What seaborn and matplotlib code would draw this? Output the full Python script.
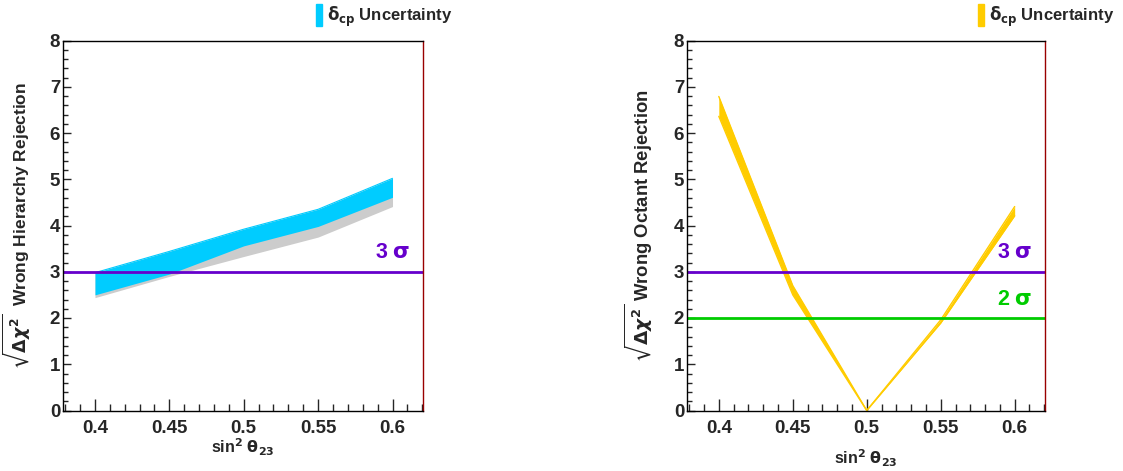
import matplotlib
matplotlib.use("Agg")
import matplotlib.pyplot as plt
from matplotlib.patches import Patch
from matplotlib.ticker import MultipleLocator
import seaborn as sns

# sin^2 theta23 grid
s23 = [0.4, 0.45, 0.5, 0.55, 0.6]

# wrong hierarchy rejection band (cyan on top of gray)
mh_cyan_hi = [2.98, 3.44, 3.92, 4.35, 5.02]
mh_cyan_lo = [2.50, 2.95, 3.56, 3.98, 4.61]
mh_gray_lo = [2.44, 2.90, 3.33, 3.75, 4.41]

# wrong octant rejection band
oct_hi = [6.79, 2.70, 0.0, 1.96, 4.41]
oct_lo = [6.36, 2.50, 0.0, 1.89, 4.21]

sns.set_style("ticks")
plt.rcParams["font.family"] = ["Liberation Sans", "DejaVu Sans"]
plt.rcParams["font.weight"] = "bold"
plt.rcParams["mathtext.fontset"] = "dejavusans"

cyan = "#00ccff"
gray = "#cccccc"
gold = "#ffcc00"
purple = "#6600cc"
green = "#00cc00"

fig = plt.figure(figsize=(11.23, 4.71), dpi=100)
ax1 = fig.add_axes([63 / 1123, 60.5 / 471, 360 / 1123, 370 / 471])
ax2 = fig.add_axes([687 / 1123, 60.5 / 471, 358 / 1123, 370 / 471])


def style_axes(ax):
    ax.set_xlim(0.3785, 0.6205)
    ax.set_ylim(0, 8)
    ax.xaxis.set_major_locator(MultipleLocator(0.05))
    ax.xaxis.set_minor_locator(MultipleLocator(0.01))
    ax.yaxis.set_major_locator(MultipleLocator(1))
    ax.yaxis.set_minor_locator(MultipleLocator(0.2))
    ax.set_xticks(s23)
    ax.set_xticklabels(["0.4", "0.45", "0.5", "0.55", "0.6"])
    ax.tick_params(axis="both", which="both", direction="in", top=False, right=False)
    ax.tick_params(axis="x", which="major", length=9, width=1, labelsize=13.5, pad=7)
    ax.tick_params(axis="x", which="minor", length=5, width=1)
    ax.tick_params(axis="y", which="major", length=6, width=1, labelsize=13.5, pad=2)
    ax.tick_params(axis="y", which="minor", length=3.5, width=1)
    for lab in ax.get_xticklabels() + ax.get_yticklabels():
        lab.set_fontweight("bold")
    for sp in ax.spines.values():
        sp.set_visible(True)
        sp.set_linewidth(1)
        sp.set_color("black")
    ax.spines["right"].set_color("#990000")


sigma_txt = r"3 $\mathrm{\sigma}$"
xlab = r"sin$^{\mathbf{2}}$ $\mathrm{\theta}_{\mathbf{23}}$"
leg_kw = dict(loc="upper right", bbox_transform=fig.transFigure, frameon=False,
              handlelength=0.35, handleheight=1.6, handletextpad=0.3,
              borderaxespad=0.2, prop={"weight": "bold", "size": 12})

# left panel: hierarchy
ax1.fill_between(s23, mh_gray_lo, mh_cyan_hi, color=gray, linewidth=0)
ax1.fill_between(s23, mh_cyan_lo, mh_cyan_hi, color=cyan, linewidth=0)
sns.lineplot(x=s23, y=mh_cyan_hi, ax=ax1, color=cyan, linewidth=0.8)
ax1.axhline(3, color=purple, linewidth=2)
ax1.text(0.6, 3.18, sigma_txt, color=purple, fontsize=15.5, fontweight="bold",
         ha="center", va="bottom")
style_axes(ax1)
ax1.set_ylabel(r"$\sqrt{\Delta\chi^2}$  Wrong Hierarchy Rejection", fontsize=12.5,
               fontweight="bold")
ax1.yaxis.set_label_coords(-0.082, 0.5)
ax1.set_xlabel(xlab, fontsize=11.5, fontweight="bold")
ax1.xaxis.set_label_coords(0.5, -0.07)
ax1.legend(handles=[Patch(color=cyan, label=r"$\mathrm{\delta}_{\mathbf{cp}}$ Uncertainty")],
           bbox_to_anchor=(462 / 1123, 1.012), **leg_kw)

# right panel: octant
ax2.fill_between(s23, oct_lo, oct_hi, color=gold, linewidth=0)
sns.lineplot(x=s23, y=oct_hi, ax=ax2, color=gold, linewidth=1)
sns.lineplot(x=s23, y=oct_lo, ax=ax2, color=gold, linewidth=1)
ax2.axhline(3, color=purple, linewidth=2)
ax2.axhline(2, color=green, linewidth=2)
ax2.text(0.6, 3.18, sigma_txt, color=purple, fontsize=15.5, fontweight="bold",
         ha="center", va="bottom")
ax2.text(0.6, 2.18, r"2 $\mathrm{\sigma}$", color=green, fontsize=15.5, fontweight="bold",
         ha="center", va="bottom")
style_axes(ax2)
ax2.set_ylabel(r"$\sqrt{\Delta\chi^2}$ Wrong Octant Rejection", fontsize=13.3,
               fontweight="bold")
ax2.yaxis.set_label_coords(-0.089, 0.5)
ax2.set_xlabel(xlab, fontsize=11.5, fontweight="bold")
ax2.xaxis.set_label_coords(0.5, -0.1)
ax2.legend(handles=[Patch(color=gold, label=r"$\mathrm{\delta}_{\mathbf{cp}}$ Uncertainty")],
           bbox_to_anchor=(1124 / 1123, 1.012), **leg_kw)

fig.savefig("out.png", dpi=100)
